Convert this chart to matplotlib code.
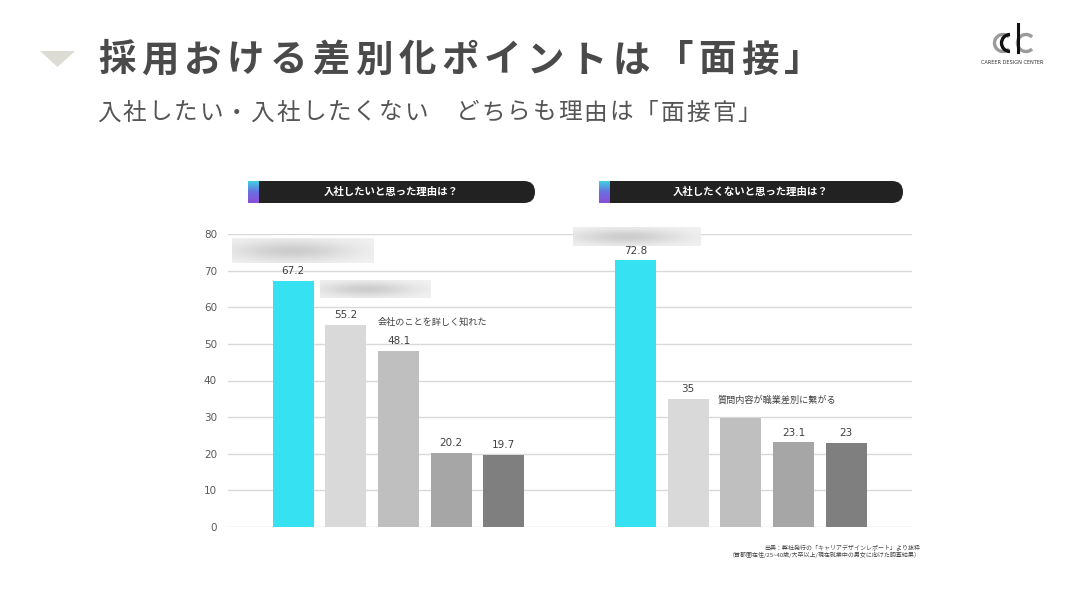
import numpy as np
import matplotlib
matplotlib.use("Agg")
import matplotlib.pyplot as plt
from matplotlib.patches import FancyBboxPatch, Rectangle, Polygon, Arc
from matplotlib.colors import LinearSegmentedColormap
from matplotlib.lines import Line2D

plt.rcParams['font.family'] = ['Noto Sans CJK JP', 'DejaVu Sans']

# data
want_values = [67.2, 55.2, 48.1, 20.2, 19.7]       # 入社したい理由
dont_values = [72.8, 35, 29.7, 23.1, 23]           # 入社したくない理由
want_labels = ['67.2', '55.2', '48.1', '20.2', '19.7']
dont_labels = ['72.8', '35', '', '23.1', '23']
bar_colors = ['#36e2f2', '#d9d9d9', '#bfbfbf', '#a6a6a6', '#7f7f7f']
yticks = [0, 10, 20, 30, 40, 50, 60, 70, 80]

W, H = 1071, 602
fig = plt.figure(figsize=(W / 100, H / 100), dpi=100)
fig.patch.set_facecolor('white')
renderer = fig.canvas.get_renderer()


def px(x, y):
    # pixel (top-left origin) -> inches for dpi_scale_trans
    return x / 100, (H - y) / 100


def fax(x0, y0, x1, y1, z=1):
    # axes placed by pixel box
    a = fig.add_axes([x0 / W, 1 - y1 / H, (x1 - x0) / W, (y1 - y0) / H])
    a.set_zorder(z)
    return a


def spaced_text(x, y, s, gap, **kw):
    # draw characters one by one with extra letter spacing (pixels)
    for ch in s:
        t = fig.text(x / W, 1 - y / H, ch, ha='left', va='center', **kw)
        w = t.get_window_extent(renderer).width
        x += w + gap


# title block
tri = Polygon([px(40, 51), px(75, 51), px(57.5, 67)], closed=True,
              transform=fig.dpi_scale_trans, color='#dcdcd4', lw=0)
fig.add_artist(tri)
spaced_text(98, 60, '採用おける差別化ポイントは「面接」', 5.4, fontsize=27,
            fontweight='bold', color='#4a4a4a')
spaced_text(97, 113, '入社したい・入社したくない　どちらも理由は「面接官」', 2.0,
            fontsize=17, color='#555555')

# logo
for cx, col, th1, th2 in [(1003, '#9a9a9a', 45, 315), (1010, '#111111', 90, 270),
                          (1026, '#9a9a9a', 45, 315)]:
    arc = Arc(px(cx, 43), 0.17, 0.17, theta1=th1, theta2=th2,
              transform=fig.dpi_scale_trans, color=col, lw=2.4)
    fig.add_artist(arc)
fig.add_artist(Line2D([1018 / 100, 1018 / 100], [(H - 24) / 100, (H - 51.5) / 100],
                      transform=fig.dpi_scale_trans, color='#111111', lw=2.2))
fig.text(1012 / W, 1 - 62 / H, 'CAREER DESIGN CENTER', fontsize=3.6, color='#333333',
         ha='center', va='center', family='DejaVu Sans')

# main chart
ax = fax(228, 234, 912, 527, z=0)
x_left = np.arange(5)
x_right = np.arange(5) + 6.5
ax.bar(x_left, want_values, width=0.78, color=bar_colors, zorder=3)
ax.bar(x_right, dont_values, width=0.78, color=bar_colors, zorder=3)
for xs, vals, labs in [(x_left, want_values, want_labels), (x_right, dont_values, dont_labels)]:
    for xv, v, lab in zip(xs, vals, labs):
        ax.text(xv, v + 1.3, lab, ha='center', va='bottom', fontsize=7.5,
                color='#404040', family='DejaVu Sans')
ax.set_xlim(-1.24, 11.75)
ax.set_ylim(0, 80)
ax.set_yticks(yticks)
ax.set_xticks([])
ax.yaxis.grid(True, color='#d9d9d9', linewidth=1)
ax.set_axisbelow(True)
for s in ax.spines.values():
    s.set_visible(False)
ax.tick_params(axis='y', length=0, labelsize=7.5, labelcolor='#595959', pad=8)
for t in ax.get_yticklabels():
    t.set_family('DejaVu Sans')

ax.text(1.6, 56.0, '会社のことを詳しく知れた', fontsize=6.6, color='#404040', va='center')
ax.text(8.05, 34.8, '質問内容が職業差別に繋がる', fontsize=6.6, color='#404040', va='center')

# blurred boxes
yy, xx = np.mgrid[0:40, 0:120]
for (x0, y0, x1, y1) in [(232, 238, 374, 263), (320, 280, 431, 298), (573, 227, 701, 246)]:
    bax = fax(x0, y0, x1, y1, z=2)
    blob = np.exp(-(((xx - 50) / 50.0) ** 2 + ((yy - 20) / 16.0) ** 2))
    img = 0.95 - 0.15 * blob
    bax.imshow(img, cmap='gray', vmin=0, vmax=1, aspect='auto', interpolation='bicubic')
    bax.axis('off')

# header bars
cmap = LinearSegmentedColormap.from_list('g', ['#3fd0e0', '#6a6ee0', '#8a4fd8'])
for (x0, x1, label) in [(248, 535, '入社したいと思った理由は？'),
                        (599, 903, '入社したくないと思った理由は？')]:
    y0, y1 = 181, 203
    rr = FancyBboxPatch(px(x0, y1), (x1 - x0) / 100, (y1 - y0) / 100,
                        boxstyle='round,pad=0,rounding_size=0.11',
                        transform=fig.dpi_scale_trans, color='#222222', lw=0)
    fig.add_artist(rr)
    sq = Rectangle(px(x0, y1), 0.3, (y1 - y0) / 100, transform=fig.dpi_scale_trans,
                   color='#222222', lw=0)
    fig.add_artist(sq)
    gax = fax(x0, y0, x0 + 11, y1, z=3)
    grad = np.linspace(0, 1, 50).reshape(-1, 1)
    gax.imshow(grad, cmap=cmap, aspect='auto')
    gax.axis('off')
    fig.text((x0 + x1) / 2 / W, 1 - 192 / H, label, fontsize=7.5, fontweight='bold',
             color='white', ha='center', va='center')

# source
fig.text(920 / W, 1 - 548 / H, '出典：弊社発行の「キャリアデザインレポート」より抜粋',
         fontsize=4.3, color='#444444', ha='right', va='center')
fig.text(921 / W, 1 - 555 / H, '（首都圏在住/25~40歳/大卒以上/現在就業中の男女に向けた調査結果）',
         fontsize=4.3, color='#444444', ha='right', va='center')

fig.savefig('out.png', dpi=100)
